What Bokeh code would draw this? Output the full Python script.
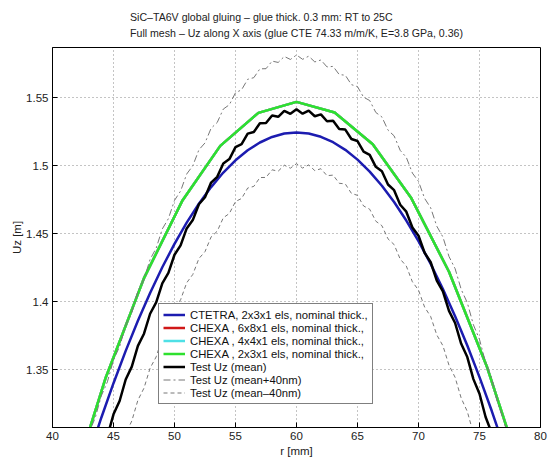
from bokeh.plotting import figure
from bokeh.models import (Legend, LegendItem, FixedTicker, Range1d,
                          CustomJSTickFormatter)
from bokeh.embed import file_html
from bokeh.resources import INLINE

# ---------------- data ----------------
x_ticks = [40, 45, 50, 55, 60, 65, 70, 75, 80]
y_ticks = [1.35, 1.40, 1.45, 1.50, 1.55]

# CTETRA 2x3x1 els (blue)
r_ctetra = [42, 43, 44, 45, 46, 47, 48, 49, 50, 51, 52, 53, 54, 55, 56, 57, 58, 59, 60,
            61, 62, 63, 64, 65, 66, 67, 68, 69, 70, 71, 72, 73, 74, 75, 76, 77, 78]
uz_ctetra = [1.2588, 1.2875, 1.3146, 1.3400, 1.3638, 1.3859, 1.4064, 1.4253, 1.4425,
             1.4581, 1.4720, 1.4843, 1.4950, 1.5040, 1.5114, 1.5171, 1.5212, 1.5237,
             1.5245, 1.5237, 1.5213, 1.5173, 1.5117, 1.5045, 1.4957, 1.4853, 1.4733,
             1.4597, 1.4445, 1.4277, 1.4093, 1.3893, 1.3677, 1.3445, 1.3197, 1.2933,
             1.2653]

# CHEXA meshes (coarse node positions)
r_chexa = [41.25, 44.375, 47.5, 50.625, 53.75, 56.875, 60.0,
           63.125, 66.25, 69.375, 72.5, 75.625, 78.75]
uz_chexa_6x8 = [1.2552, 1.3444, 1.4173, 1.4740, 1.5146, 1.5389, 1.5470,
                1.5392, 1.5158, 1.4767, 1.4220, 1.3517, 1.2657]
uz_chexa_4x4 = [1.2552, 1.3444, 1.4173, 1.4740, 1.5146, 1.5389, 1.5470,
                1.5392, 1.5158, 1.4767, 1.4220, 1.3517, 1.2657]
uz_chexa_2x3 = [1.2552, 1.3444, 1.4173, 1.4740, 1.5146, 1.5389, 1.5470,
                1.5392, 1.5158, 1.4767, 1.4220, 1.3517, 1.2657]

# Test measurements
r_test = [42.5, 43.0, 43.5, 44.0, 44.5, 45.0, 45.5, 46.0, 46.5, 47.0, 47.5, 48.0,
          48.5, 49.0, 49.5, 50.0, 50.5, 51.0, 51.5, 52.0, 52.5, 53.0, 53.5, 54.0,
          54.5, 55.0, 55.5, 56.0, 56.5, 57.0, 57.5, 58.0, 58.5, 59.0, 59.5, 60.0,
          60.5, 61.0, 61.5, 62.0, 62.5, 63.0, 63.5, 64.0, 64.5, 65.0, 65.5, 66.0,
          66.5, 67.0, 67.5, 68.0, 68.5, 69.0, 69.5, 70.0, 70.5, 71.0, 71.5, 72.0,
          72.5, 73.0, 73.5, 74.0, 74.5, 75.0, 75.5, 76.0, 76.5, 77.0, 77.5]
uz_test_mean = [1.2474, 1.2639, 1.2744, 1.2907, 1.3010, 1.3171, 1.3269, 1.3427,
                1.3522, 1.3675, 1.3764, 1.3911, 1.3994, 1.4135, 1.4211, 1.4345,
                1.4414, 1.4539, 1.4600, 1.4717, 1.4768, 1.4876, 1.4918, 1.5017,
                1.5049, 1.5137, 1.5159, 1.5236, 1.5248, 1.5313, 1.5314, 1.5370,
                1.5360, 1.5404, 1.5382, 1.5415, 1.5383, 1.5406, 1.5364, 1.5378,
                1.5327, 1.5331, 1.5271, 1.5266, 1.5197, 1.5182, 1.5104, 1.5080,
                1.4992, 1.4959, 1.4862, 1.4820, 1.4713, 1.4662, 1.4546, 1.4485,
                1.4360, 1.4290, 1.4155, 1.4076, 1.3932, 1.3843, 1.3690, 1.3592,
                1.3430, 1.3322, 1.3151, 1.3034, 1.2853, 1.2727, 1.2537]
uz_test_plus = [1.2874, 1.3039, 1.3144, 1.3307, 1.3410, 1.3571, 1.3669, 1.3827,
                1.3922, 1.4075, 1.4164, 1.4311, 1.4394, 1.4535, 1.4611, 1.4745,
                1.4814, 1.4939, 1.5000, 1.5117, 1.5168, 1.5276, 1.5318, 1.5417,
                1.5449, 1.5537, 1.5559, 1.5636, 1.5648, 1.5713, 1.5714, 1.5770,
                1.5760, 1.5804, 1.5782, 1.5815, 1.5783, 1.5806, 1.5764, 1.5778,
                1.5727, 1.5731, 1.5671, 1.5666, 1.5597, 1.5582, 1.5504, 1.5480,
                1.5392, 1.5359, 1.5262, 1.5220, 1.5113, 1.5062, 1.4946, 1.4885,
                1.4760, 1.4690, 1.4555, 1.4476, 1.4332, 1.4243, 1.4090, 1.3992,
                1.3830, 1.3722, 1.3551, 1.3434, 1.3253, 1.3127, 1.2937]
uz_test_minus = [1.2074, 1.2239, 1.2344, 1.2507, 1.2610, 1.2771, 1.2869, 1.3027,
                 1.3122, 1.3275, 1.3364, 1.3511, 1.3594, 1.3735, 1.3811, 1.3945,
                 1.4014, 1.4139, 1.4200, 1.4317, 1.4368, 1.4476, 1.4518, 1.4617,
                 1.4649, 1.4737, 1.4759, 1.4836, 1.4848, 1.4913, 1.4914, 1.4970,
                 1.4960, 1.5004, 1.4982, 1.5015, 1.4983, 1.5006, 1.4964, 1.4978,
                 1.4927, 1.4931, 1.4871, 1.4866, 1.4797, 1.4782, 1.4704, 1.4680,
                 1.4592, 1.4559, 1.4462, 1.4420, 1.4313, 1.4262, 1.4146, 1.4085,
                 1.3960, 1.3890, 1.3755, 1.3676, 1.3532, 1.3443, 1.3290, 1.3192,
                 1.3030, 1.2922, 1.2751, 1.2634, 1.2453, 1.2327, 1.2137]

labels = ["CTETRA, 2x3x1 els, nominal thick.,",
          "CHEXA , 6x8x1 els, nominal thick.,",
          "CHEXA , 4x4x1 els, nominal thick.,",
          "CHEXA , 2x3x1 els, nominal thick.,",
          "Test Uz (mean)",
          "Test Uz (mean+40nm)",
          "Test Uz (mean\u201340nm)"]

title_line1 = "SiC\u2013TA6V global gluing \u2013 glue thick. 0.3 mm: RT to 25C"
title_line2 = "Full mesh \u2013 Uz along X axis (glue CTE 74.33 m/m/K, E=3.8 GPa, 0.36)"

FONT = "Liberation Sans"

# ---------------- figure ----------------
p = figure(width=551, height=459, output_backend="svg", toolbar_location=None,
           x_range=Range1d(40, 80), y_range=Range1d(1.3074, 1.587),
           min_border_left=52, min_border_right=11, min_border_top=47,
           min_border_bottom=32)

xa = p.below[0]
ya = p.left[0]

for ax in (xa, ya):
    ax.major_label_text_font = FONT
    ax.major_label_text_font_size = "11.5px"
    ax.major_label_text_color = "#222222"
    ax.axis_label_text_font = FONT
    ax.axis_label_text_font_size = "11.5px"
    ax.axis_label_text_font_style = "normal"
    ax.axis_label_text_color = "#222222"
    ax.major_tick_in = 5
    ax.major_tick_out = 0
    ax.minor_tick_in = 0
    ax.minor_tick_out = 0
    ax.axis_line_color = "black"
    ax.major_tick_line_color = "black"

xa.ticker = FixedTicker(ticks=x_ticks)
ya.ticker = FixedTicker(ticks=y_ticks)
ya.formatter = CustomJSTickFormatter(code="return String(Math.round(tick*100)/100);")
xa.axis_label = "r [mm]"
ya.axis_label = "Uz [m]"
xa.major_label_standoff = 4
xa.axis_label_standoff = 2
ya.major_label_standoff = 4
ya.axis_label_standoff = 0

p.xgrid.ticker = FixedTicker(ticks=x_ticks)
p.ygrid.ticker = FixedTicker(ticks=y_ticks)
for g in (p.xgrid[0], p.ygrid[0]):
    g.grid_line_color = "#888888"
    g.grid_line_dash = "1 3"
    g.grid_line_width = 1

# two-line title
p.title.text = title_line1 + "\n" + title_line2
p.title.align = "center"
p.title.text_font = FONT
p.title.text_font_size = "10.6px"
p.title.text_font_style = "normal"
p.title.text_color = "#222222"
p.title.text_line_height = 1.35
p.title.offset = 0
p.title.standoff = 16

p.outline_line_color = "black"
p.outline_line_width = 1
p.background_fill_color = "white"
p.border_fill_color = "white"

# ---------------- curves ----------------
r_blue = p.line(r_ctetra, uz_ctetra, line_color="#1c1cb0", line_width=2.5)
r_red = p.line(r_chexa, uz_chexa_6x8, line_color="#d01818", line_width=2.5)
r_cyan = p.line(r_chexa, uz_chexa_4x4, line_color="#4ee0e6", line_width=2.5)
r_green = p.line(r_chexa, uz_chexa_2x3, line_color="#2ee02e", line_width=2.5)
r_black = p.line(r_test, uz_test_mean, line_color="black", line_width=2.5)
r_plus = p.line(r_test, uz_test_plus, line_color="#777777", line_width=1,
                line_dash="7 3 2 3")
r_minus = p.line(r_test, uz_test_minus, line_color="#777777", line_width=1,
                 line_dash="4 3")

items = [LegendItem(label=labels[i], renderers=[rr]) for i, rr in
         enumerate([r_blue, r_red, r_cyan, r_green, r_black, r_plus, r_minus])]
legend = Legend(items=items, location=(106, 23))
legend.label_text_font = FONT
legend.label_text_font_size = "11.3px"
legend.label_text_color = "#111111"
legend.label_height = 13
legend.glyph_height = 13
legend.glyph_width = 22
legend.spacing = 0
legend.padding = 4
legend.margin = 0
legend.label_standoff = 5
legend.border_line_color = "black"
legend.border_line_width = 1
legend.background_fill_color = "white"
legend.background_fill_alpha = 1.0
p.add_layout(legend, "center")

open("out.html", "w").write(file_html(p, INLINE))
